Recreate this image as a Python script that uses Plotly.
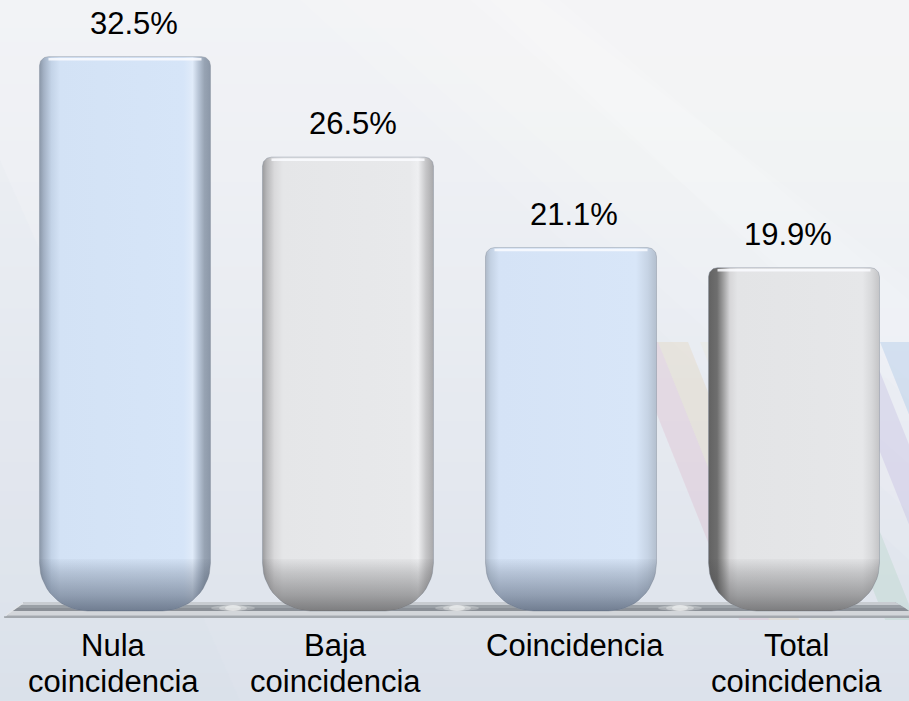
import math
import plotly.graph_objects as go

# ---- data ----
categories = ["Nula\ncoincidencia", "Baja\ncoincidencia", "Coincidencia", "Total\ncoincidencia"]
values = [32.5, 26.5, 21.1, 19.9]

# ---- figure geometry ----
W, H = 909, 701
X_RANGE = [-0.5605, 3.5157]
Y_RANGE = [-5.97, 35.881]
PX_X = W / (X_RANGE[1] - X_RANGE[0])   # pixels per category unit
PX_Y = H / (Y_RANGE[1] - Y_RANGE[0])   # pixels per percentage point

FONT = "Liberation Sans, Arial, sans-serif"

# small horizontal nudges for the perspective look of the labels (pixels)
value_label_shift = [9, 5, 3, -6]
category_label_shift = [-11, -12, 4, 2]

# per-bar horizontal shading (edge bevels), blue / grey alternating
body_scales = [
    [[0, "#8a97a8"], [0.025, "#a3b1c4"], [0.07, "#c3d3e7"], [0.12, "#d3e2f5"],
     [0.84, "#d6e5f8"], [0.895, "#e0ebf9"], [0.93, "#b8c5d6"], [0.965, "#97a3b3"], [1, "#8c98a8"]],
    [[0, "#9b9b9d"], [0.025, "#b7b7b9"], [0.07, "#d9d9db"], [0.12, "#e5e6e8"],
     [0.86, "#e8e9eb"], [0.91, "#eeeff1"], [0.955, "#c6c6c8"], [1, "#a8a8aa"]],
    [[0, "#aeb9c8"], [0.03, "#c3d1e3"], [0.08, "#d5e3f6"], [0.88, "#d8e6f8"],
     [0.95, "#c6d3e4"], [1, "#b3bfce"]],
    [[0, "#626262"], [0.05, "#6e6e6e"], [0.085, "#9d9d9d"], [0.125, "#d6d6d8"], [0.17, "#e3e4e6"],
     [0.9, "#e6e7e9"], [0.955, "#d7d8da"], [1, "#c4c4c6"]],
]
shade_cols = ["60,72,92", "70,70,72", "60,72,92", "70,70,72"]

fig = go.Figure()

HALF_W = 171 / PX_X / 2
R_TOP = 9
R_BOT = 48
BOTTOM_DROP = 10  # rounded foot sinks into the floor


def arc(cx, cy, rx, ry, a0, a1, n=14):
    pts = []
    for k in range(n + 1):
        a = math.radians(a0 + (a1 - a0) * k / n)
        pts.append((cx + rx * math.cos(a), cy + ry * math.sin(a)))
    return pts


for i, v in enumerate(values):
    xl, xr = i - HALF_W, i + HALF_W
    yb = -BOTTOM_DROP / PX_Y
    rtx, rty = R_TOP / PX_X, R_TOP / PX_Y
    rbx, rby = R_BOT / PX_X, R_BOT / PX_Y

    outline = (arc(xl + rtx, v - rty, rtx, rty, 180, 90)
               + arc(xr - rtx, v - rty, rtx, rty, 90, 0)
               + arc(xr - rbx, yb + rby, rbx, rby, 0, -90)
               + arc(xl + rbx, yb + rby, rbx, rby, -90, -180))
    outline.append(outline[0])
    fig.add_trace(go.Scatter(
        x=[p[0] for p in outline], y=[p[1] for p in outline],
        mode="lines", fill="toself", line=dict(width=0.8, color="rgba(130,140,155,0.55)"),
        fillgradient=dict(type="horizontal", colorscale=body_scales[i]),
        hoverinfo="skip", showlegend=False))

    # darker rounded foot
    ys = yb + rby + 4 / PX_Y
    foot = ([(xl, ys), (xr, ys)]
            + arc(xr - rbx, yb + rby, rbx, rby, 0, -90)
            + arc(xl + rbx, yb + rby, rbx, rby, -90, -180))
    foot.append(foot[0])
    c = shade_cols[i]
    fig.add_trace(go.Scatter(
        x=[p[0] for p in foot], y=[p[1] for p in foot],
        mode="lines", fill="toself", line=dict(width=0),
        fillgradient=dict(type="vertical", colorscale=[
            [0, f"rgba({c},0.66)"], [0.3, f"rgba({c},0.45)"],
            [0.75, f"rgba({c},0.2)"], [1, f"rgba({c},0.03)"]]),
        hoverinfo="skip", showlegend=False))

    # glossy rim along the top
    fig.add_trace(go.Scatter(
        x=[xl + rtx, xr - rtx], y=[v - 2.5 / PX_Y, v - 2.5 / PX_Y],
        mode="lines", line=dict(width=2.5, color="rgba(250,252,255,0.85)"),
        hoverinfo="skip", showlegend=False))

# ---- value labels ----
annotations = []
for i, v in enumerate(values):
    annotations.append(dict(
        x=i, y=v, xref="x", yref="y", text=f"{v:.1f}%", showarrow=False,
        yanchor="bottom", yshift=14, xshift=value_label_shift[i],
        font=dict(family=FONT, size=31, color="#000000")))

# ---- category labels (tight two-line layout) ----
LINE_GAP = 36
for i, cat in enumerate(categories):
    for j, line in enumerate(cat.split("\n")):
        annotations.append(dict(
            x=i, y=1 - 626 / H, xref="x", yref="paper", text=line, showarrow=False,
            yanchor="top", yshift=-LINE_GAP * j, xshift=category_label_shift[i],
            font=dict(family=FONT, size=31, color="#000000")))


# ---- decorative backdrop ----
def pp(px, py):
    return f"{px / W:.5f},{1 - py / H:.5f}"


def poly(points):
    return "M " + " L ".join(pp(x, y) for x, y in points) + " Z"


def mix(c0, c1, t):
    return "#%02x%02x%02x" % tuple(round(a + (b - a) * t) for a, b in zip(c0, c1))


shapes = []
BG_TOP = (242, 243, 246)
BG_BOT = (220, 226, 235)
N = 50
for k in range(N):
    t = k / (N - 1)
    shapes.append(dict(type="rect", xref="paper", yref="paper", layer="below",
                       x0=0, x1=1, y0=1 - (k + 1) / N - 0.002, y1=1 - k / N,
                       fillcolor=mix(BG_TOP, BG_BOT, t ** 1.15), line=dict(width=0)))

# soft light sweeps, layered thinly so their edges stay faint
for off, op in ((0, 0.08), (40, 0.08), (80, 0.08)):
    shapes.append(dict(type="path", xref="paper", yref="paper", layer="below",
                       path=poly([(300 + off, 0), (909, 0), (909, 560 - off * 1.2)]),
                       fillcolor=f"rgba(255,255,255,{op})", line=dict(width=0)))
for off, op in ((0, 0.1), (20, 0.1)):
    shapes.append(dict(type="path", xref="paper", yref="paper", layer="below",
                       path=poly([(470 + off, 0), (560 - off, 0), (909, 300 - off), (909, 380 + off)]),
                       fillcolor=f"rgba(255,255,255,{op})", line=dict(width=0)))
shapes.append(dict(type="path", xref="paper", yref="paper", layer="below",
                   path=poly([(0, 160), (0, 700), (240, 700)]),
                   fillcolor="rgba(205,212,224,0.08)", line=dict(width=0)))

# coloured diagonal ribbons, lower right
SLOPE = 0.4
ribbons = [(628, 30, "rgba(214,150,175,0.2)"), (658, 30, "rgba(226,202,160,0.24)"),
           (700, 30, "rgba(235,225,195,0.18)"), (774, 30, "rgba(160,205,178,0.24)"),
           (836, 32, "rgba(170,155,212,0.22)"), (880, 40, "rgba(150,186,226,0.3)")]
for x0, w, col in ribbons:
    y0, y1 = 342, 620
    shapes.append(dict(type="path", xref="paper", yref="paper", layer="below",
                       path=poly([(x0, y0), (x0 + w, y0),
                                  (x0 + w + SLOPE * (y1 - y0), y1), (x0 + SLOPE * (y1 - y0), y1)]),
                       fillcolor=col, line=dict(width=0)))

# floor plate
floor = [
    ([(4, 618), (24, 602), (895, 602), (909, 611), (909, 618)], "#a7acb2"),
    ([(20, 605), (24, 602), (895, 602), (900, 605)], "#c8ccd1"),
    ([(16, 608), (20, 605), (900, 605), (905, 608)], "#9aa0a6"),
    ([(12, 611), (16, 608), (905, 608), (909, 611)], "#8a8f96"),
    ([(7, 615.5), (12, 611), (909, 611), (909, 615.5)], "#d3d6da"),
]
for pts, col in floor:
    shapes.append(dict(type="path", xref="paper", yref="paper", layer="below",
                       path=poly(pts), fillcolor=col, line=dict(width=0)))
shapes.append(dict(type="line", xref="paper", yref="paper", layer="below",
                   x0=4 / W, x1=1, y0=1 - 617 / H, y1=1 - 617 / H,
                   line=dict(color="#a2a7ad", width=1.5)))
shapes.append(dict(type="line", xref="paper", yref="paper", layer="below",
                   x0=6 / W, x1=23 / W, y0=1 - 615 / H, y1=1 - 603 / H,
                   line=dict(color="#e2e5e9", width=1.5)))
# soft reflections on the plate between the bars
for cx in (233, 457, 680):
    for half, op in ((22, 0.25), (14, 0.35), (8, 0.45)):
        shapes.append(dict(type="circle", xref="paper", yref="paper", layer="below",
                           x0=(cx - half) / W, x1=(cx + half) / W, y0=1 - 611 / H, y1=1 - 605 / H,
                           fillcolor=f"rgba(255,255,255,{op})", line=dict(width=0)))

fig.update_layout(
    width=W, height=H,
    margin=dict(l=0, r=0, t=0, b=0),
    paper_bgcolor="#eceff3",
    plot_bgcolor="rgba(0,0,0,0)",
    xaxis=dict(range=X_RANGE, domain=[0, 1], visible=False, fixedrange=True),
    yaxis=dict(range=Y_RANGE, domain=[0, 1], visible=False, fixedrange=True),
    shapes=shapes,
    annotations=annotations,
    showlegend=False,
)

fig.write_html("out.html")
